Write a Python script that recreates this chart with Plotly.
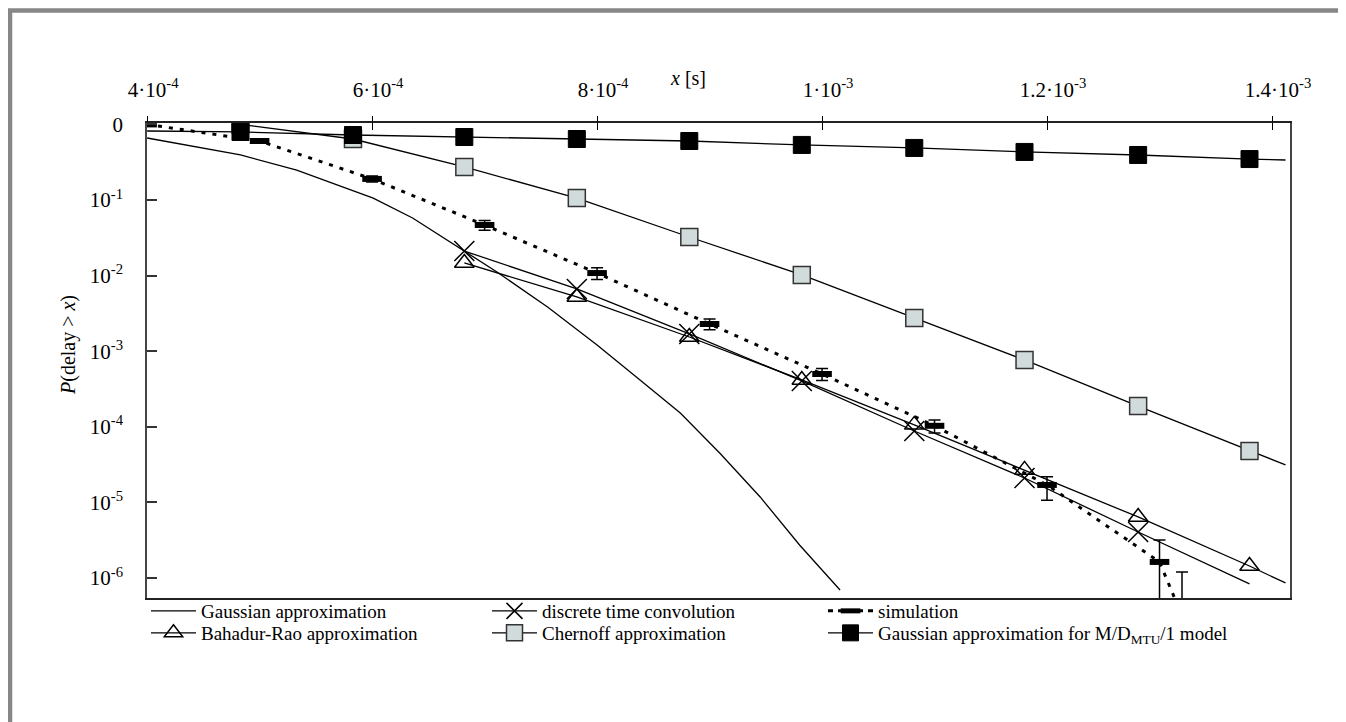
import plotly.graph_objects as go

# ---------------- data ----------------
# x positions of the model markers [s]
x_model = [4.83e-4, 5.83e-4, 6.82e-4, 7.82e-4, 8.82e-4, 9.82e-4, 10.82e-4, 11.80e-4, 12.81e-4, 13.80e-4]

# Gaussian approximation for M/D_MTU/1 model (black squares)
md_line_x = [4.0e-4] + x_model + [14.12e-4]
md_line_y = [0.818, 0.794, 0.724, 0.681, 0.641, 0.603, 0.535, 0.488, 0.432, 0.394, 0.348, 0.338]
md_mark_y = [0.794, 0.724, 0.681, 0.641, 0.603, 0.535, 0.488, 0.432, 0.394, 0.348]

# Chernoff approximation (grey squares)
ch_line_x = x_model + [14.12e-4]
ch_line_y = [1.0, 0.641, 0.274, 0.106, 0.0324, 0.0102, 2.75e-3, 7.66e-4, 1.88e-4, 4.79e-5, 3.13e-5]
ch_mark_y = [1.0, 0.641, 0.274, 0.106, 0.0324, 0.0102, 2.75e-3, 7.66e-4, 1.88e-4, 4.79e-5]

# Bahadur-Rao approximation (triangles)
br_mark_x = x_model[2:]
br_mark_y = [0.01469, 5.21e-3, 1.54e-3, 4.16e-4, 1.06e-4, 2.69e-5, 6.41e-6, 1.44e-6]
br_line_x = br_mark_x + [14.12e-4]
br_line_y = br_mark_y + [8.59e-7]

# discrete time convolution (crosses)
dtc_mark_x = x_model[2:9]
dtc_mark_y = [0.02113, 6.65e-3, 1.69e-3, 4.04e-4, 8.79e-5, 2.10e-5, 4.06e-6]
dtc_line_x = dtc_mark_x + [13.80e-4]
dtc_line_y = dtc_mark_y + [8.34e-7]

# Gaussian approximation (plain line)
ga_x = [4.0e-4, 4.83e-4, 5.33e-4, 6.01e-4, 6.36e-4, 6.60e-4, 6.81e-4, 7.11e-4, 7.56e-4,
        8.0e-4, 8.36e-4, 8.74e-4, 9.09e-4, 9.45e-4, 9.80e-4, 10.16e-4]
ga_y = [0.661, 0.394, 0.249, 0.106, 0.0578, 0.0344, 0.0218, 0.01117, 3.85e-3,
        1.21e-3, 4.42e-4, 1.52e-4, 4.50e-5, 1.18e-5, 2.73e-6, 6.93e-7]

# simulation (with confidence intervals)
sim_x = [4e-4, 5e-4, 6e-4, 7e-4, 8e-4, 9e-4, 10e-4, 11e-4, 12e-4, 13e-4, 13.2e-4]
sim_y = [1.0, 0.603, 0.190, 0.0467, 0.0108, 2.29e-3, 4.99e-4, 1.03e-4, 1.70e-5, 1.63e-6, 3.16e-7]
sim_err_plus = [0.02, 0.03, 0.017, 0.007, 0.0019, 3.7e-4, 9.0e-5, 2.0e-5, 4.8e-6, 1.55e-6, 8.8e-7]
sim_err_minus = [0.02, 0.03, 0.017, 0.007, 0.0019, 3.7e-4, 9.0e-5, 2.0e-5, 6.3e-6, 1.58e-6, 3.07e-7]

x_tickvals = [4e-4, 6e-4, 8e-4, 1e-3, 1.2e-3, 1.4e-3]
x_ticktext = ["4·10<sup>-4</sup>", "6·10<sup>-4</sup>", "8·10<sup>-4</sup>",
              "1·10<sup>-3</sup>", "1.2·10<sup>-3</sup>", "1.4·10<sup>-3</sup>"]
y_tickvals = [1, 1e-1, 1e-2, 1e-3, 1e-4, 1e-5, 1e-6]
y_ticktext = ["0", "10<sup>-1</sup>", "10<sup>-2</sup>", "10<sup>-3</sup>",
              "10<sup>-4</sup>", "10<sup>-5</sup>", "10<sup>-6</sup>"]

legend_names = ["Gaussian approximation", "Bahadur-Rao approximation",
                "discrete time convolution", "Chernoff approximation",
                "simulation", "Gaussian approximation for M/D<sub>MTU</sub>/1 model"]

# ---------------- styling ----------------
FONT = "Liberation Serif, Times New Roman, serif"
LW = 1.3
GREY_FILL = "#d2dbdb"

# the page body has an 8px margin: work in page pixels and shift
OFF = 8
W, H = 1346 - OFF, 722 - OFF
L, R, T, B = 147 - OFF, 1290 - OFF, 123 - OFF, 598 - OFF


def px(x):
    return (x - OFF - L) / (R - L)


def py(y):
    return (B - (y - OFF)) / (B - T)


fig = go.Figure()

line_style = dict(color="black", width=LW)
fig.add_trace(go.Scatter(x=ga_x, y=ga_y, mode="lines", line=line_style, showlegend=False))
fig.add_trace(go.Scatter(x=md_line_x, y=md_line_y, mode="lines", line=line_style, showlegend=False))
fig.add_trace(go.Scatter(x=ch_line_x, y=ch_line_y, mode="lines", line=line_style, showlegend=False))
fig.add_trace(go.Scatter(x=br_line_x, y=br_line_y, mode="lines", line=line_style, showlegend=False))
fig.add_trace(go.Scatter(x=dtc_line_x, y=dtc_line_y, mode="lines", line=line_style, showlegend=False))
fig.add_trace(go.Scatter(x=sim_x, y=sim_y, mode="lines",
                         line=dict(color="black", width=3, dash="4px,7px"), showlegend=False))

# markers
fig.add_trace(go.Scatter(x=x_model, y=ch_mark_y, mode="markers", showlegend=False,
                         marker=dict(symbol="square", size=17, color=GREY_FILL,
                                     line=dict(color="#333333", width=1.5))))
fig.add_trace(go.Scatter(x=x_model, y=md_mark_y, mode="markers", showlegend=False,
                         marker=dict(symbol="square", size=17, color="black",
                                     line=dict(color="black", width=1))))
fig.add_trace(go.Scatter(x=br_mark_x, y=br_mark_y, mode="markers", showlegend=False,
                         marker=dict(symbol="triangle-up-open", size=17, color="black",
                                     line=dict(color="black", width=1.5))))
fig.add_trace(go.Scatter(x=dtc_mark_x, y=dtc_mark_y, mode="markers", showlegend=False,
                         marker=dict(symbol="x-thin", size=20, color="black",
                                     line=dict(color="black", width=1.5))))
fig.add_trace(go.Scatter(x=sim_x, y=sim_y, mode="markers", showlegend=False,
                         marker=dict(symbol="line-ew", size=14, color="black",
                                     line=dict(color="black", width=6)),
                         error_y=dict(type="data", array=sim_err_plus, arrayminus=sim_err_minus,
                                      symmetric=False, color="black", thickness=1.5, width=6)))

# invisible trace so that the secondary top axis (upper half of the crossing ticks) is drawn
fig.add_trace(go.Scatter(x=[None], y=[None], xaxis="x2", showlegend=False, hoverinfo="skip"))

# legend entries (one legend per entry for exact placement)
legend_specs = [
    (legend_names[0], dict(mode="lines", line=dict(color="black", width=LW))),
    (legend_names[1], dict(mode="lines+markers", line=dict(color="black", width=LW),
                           marker=dict(symbol="triangle-up-open", size=16, color="black",
                                       line=dict(color="black", width=1.5)))),
    (legend_names[2], dict(mode="lines+markers", line=dict(color="black", width=LW),
                           marker=dict(symbol="x-thin", size=16, color="black",
                                       line=dict(color="black", width=1.5)))),
    (legend_names[3], dict(mode="lines+markers", line=dict(color="black", width=LW),
                           marker=dict(symbol="square", size=16, color=GREY_FILL,
                                       line=dict(color="#333333", width=1.5)))),
    (legend_names[4], dict(mode="lines+markers", line=dict(color="black", width=3, dash="5px,5px"),
                           marker=dict(symbol="line-ew", size=14, color="black",
                                       line=dict(color="black", width=5)))),
    (legend_names[5], dict(mode="lines+markers", line=dict(color="black", width=LW),
                           marker=dict(symbol="square", size=16, color="black",
                                       line=dict(color="black", width=1)))),
]
legend_pos = [(146, 611), (146, 633), (487, 611), (487, 633), (823, 611), (823, 633)]
legend_keys = ["legend", "legend2", "legend3", "legend4", "legend5", "legend6"]

for (name, kw), key in zip(legend_specs, legend_keys):
    fig.add_trace(go.Scatter(x=[None], y=[None], name=name, legend=key, showlegend=True, **kw))

layout_legends = {}
for (lx, ly), key in zip(legend_pos, legend_keys):
    layout_legends[key] = dict(x=px(lx), y=py(ly), xanchor="left", yanchor="middle",
                               bgcolor="rgba(0,0,0,0)", borderwidth=0, itemwidth=45,
                               font=dict(family=FONT, size=19, color="black"))

x_range = [3.999e-4, 14.16e-4]

fig.update_layout(
    width=W, height=H,
    template="none",
    paper_bgcolor="white", plot_bgcolor="white",
    margin=dict(l=L, r=W - R, t=T, b=H - B, autoexpand=False),
    font=dict(family=FONT, size=20, color="black"),
    xaxis=dict(type="linear", side="top", range=x_range,
               tickvals=x_tickvals, ticktext=x_ticktext,
               ticks="inside", ticklen=7, tickwidth=1.3, tickcolor="black",
               showline=True, linecolor="#222222", linewidth=1.5, mirror=True,
               showgrid=False, zeroline=False, ticklabelstandoff=16, ticklabelshift=6,
               tickfont=dict(family=FONT, size=21, color="black")),
    xaxis2=dict(type="linear", side="top", overlaying="x", range=x_range,
                tickvals=x_tickvals, ticks="outside", ticklen=6, tickwidth=1.3,
                tickcolor="black", showticklabels=False, showline=False,
                showgrid=False, zeroline=False),
    yaxis=dict(type="log", range=[-6.265, 0.0185],
               tickvals=y_tickvals, ticktext=y_ticktext,
               ticks="inside", ticklen=10, tickwidth=1.5, tickcolor="#333333",
               showline=True, linecolor="#444444", linewidth=1.5, mirror=True,
               showgrid=False, zeroline=False, ticklabelstandoff=18,
               tickfont=dict(family=FONT, size=21, color="black")),
    annotations=[
        dict(text="<i>x</i> [s]", xref="paper", yref="paper", x=px(688), y=py(78),
             xanchor="center", yanchor="middle", showarrow=False,
             font=dict(family=FONT, size=20, color="black")),
        dict(text="<i>P</i>(delay &gt; <i>x</i>)", xref="paper", yref="paper",
             x=px(68), y=py(345), xanchor="center", yanchor="middle", textangle=-90,
             showarrow=False, font=dict(family=FONT, size=20, color="black")),
    ],
    shapes=[
        dict(type="path", xref="paper", yref="paper",
             path="M {l},{b} L {l},{t} L {r},{t} L {r},{b}".format(
                 l=px(10), r=px(1344), t=py(10.5), b=py(740)),
             line=dict(color="#878787", width=4.5)),
    ],
    **layout_legends,
)

fig.write_html("out.html")
